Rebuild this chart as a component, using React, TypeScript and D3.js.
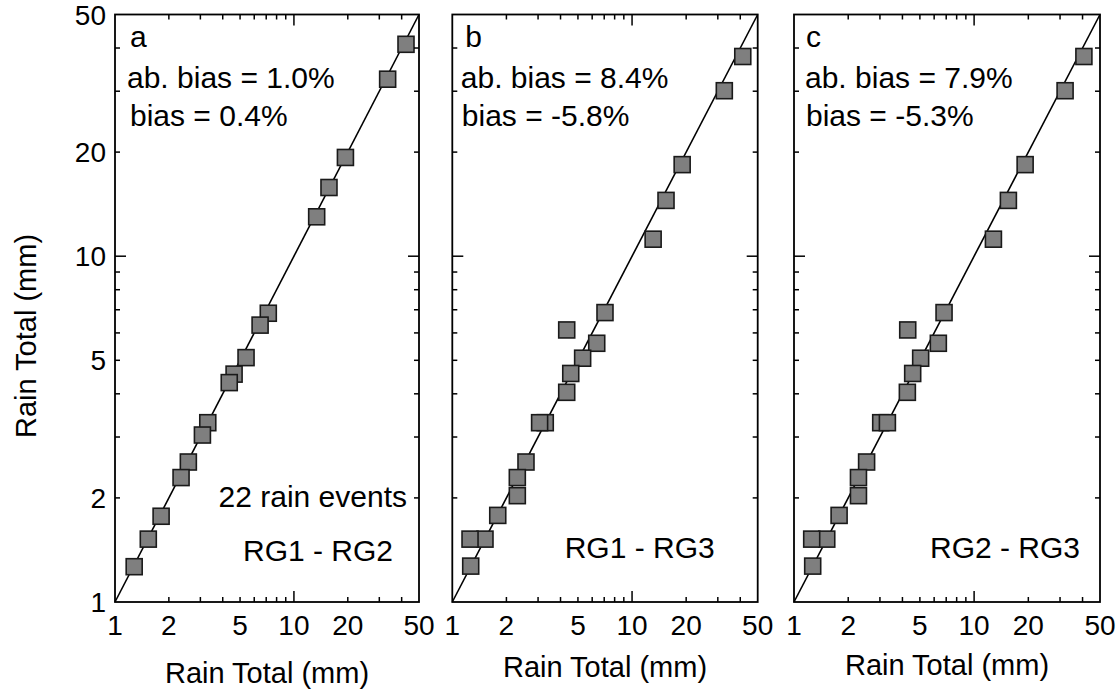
import React from "react";
import * as d3 from "d3";

// ---- data ----
const panelA_x = [42.3, 33.4, 19.4, 15.7, 13.4, 7.19, 6.47, 5.4, 4.63, 4.35, 3.3, 3.08, 2.57, 2.34, 1.81, 1.535, 1.28];
const panelA_y = [41.0, 32.5, 19.3, 15.8, 13.0, 6.84, 6.32, 5.09, 4.56, 4.31, 3.3, 3.04, 2.54, 2.29, 1.77, 1.52, 1.265];

const panelB_x = [41.3, 32.6, 19.0, 15.45, 13.1, 7.07, 4.33, 6.36, 5.31, 4.56, 4.33, 3.29, 3.06, 2.57, 2.3, 2.3, 1.79, 1.52, 1.255, 1.266];
const panelB_y = [37.8, 30.1, 18.4, 14.5, 11.2, 6.87, 6.12, 5.6, 5.07, 4.58, 4.04, 3.3, 3.3, 2.54, 2.29, 2.03, 1.78, 1.52, 1.52, 1.27];

const panelC_x = [40.7, 32.0, 19.2, 15.5, 12.8, 6.81, 4.28, 6.33, 5.05, 4.56, 4.26, 3.03, 3.3, 2.53, 2.28, 2.28, 1.78, 1.52, 1.254, 1.27];
const panelC_y = [37.8, 30.1, 18.4, 14.5, 11.2, 6.87, 6.12, 5.6, 5.07, 4.58, 4.04, 3.3, 3.3, 2.54, 2.29, 2.03, 1.78, 1.52, 1.52, 1.27];

const panelLetters = ["a", "b", "c"];
const absBias = ["ab. bias = 1.0%", "ab. bias = 8.4%", "ab. bias = 7.9%"];
const bias = ["bias = 0.4%", "bias = -5.8%", "bias = -5.3%"];
const pairLabels = ["RG1 - RG2", "RG1 - RG3", "RG2 - RG3"];
const eventsLabel = "22 rain events";

const tickLabels = [1, 2, 5, 10, 20, 50];
const minorTicks = [2, 3, 4, 5, 6, 7, 8, 9, 20, 30, 40];
const majorTicks = [10];
const axisTitle = "Rain Total (mm)";

// ---- layout ----
const W = 1117, H = 689;
const TOP = 14.5, BOTTOM = 602;
const FONT = "Arial, 'Liberation Sans', Helvetica, sans-serif";

const panels = [
  { left: 115, right: 419, xs: panelA_x, ys: panelA_y, lx: [15, 12, 15], xTitleY: 683 },
  { left: 452.3, right: 757.7, xs: panelB_x, ys: panelB_y, lx: [13, 8.5, 9.5], xTitleY: 677 },
  { left: 794, right: 1100, xs: panelC_x, ys: panelC_y, lx: [12, 11, 12], xTitleY: 675 },
];

const MS = 16; // marker size

function Panel({ p, i }: { p: typeof panels[number]; i: number }) {
  const x = d3.scaleLog().domain([1, 50]).range([p.left, p.right]);
  const y = d3.scaleLog().domain([1, 50]).range([BOTTOM, TOP]);
  const minorLen = 5, majorLen = 11;
  const ticks: JSX.Element[] = [];
  const addTicks = (vals: number[], len: number, key: string) => {
    vals.forEach((v) => {
      ticks.push(<line key={key + "b" + v} x1={x(v)} x2={x(v)} y1={BOTTOM} y2={BOTTOM - len} />);
      ticks.push(<line key={key + "t" + v} x1={x(v)} x2={x(v)} y1={TOP} y2={TOP + len} />);
      ticks.push(<line key={key + "l" + v} x1={p.left} x2={p.left + len} y1={y(v)} y2={y(v)} />);
      ticks.push(<line key={key + "r" + v} x1={p.right} x2={p.right - len} y1={y(v)} y2={y(v)} />);
    });
  };
  addTicks(minorTicks, minorLen, "m");
  addTicks(majorTicks, majorLen, "M");

  const cx = (p.left + p.right) / 2;
  const data = d3.zip(p.xs, p.ys);

  return (
    <g>
      {/* 1:1 line */}
      <line x1={x(1)} y1={y(1)} x2={x(50)} y2={y(50)} stroke="#000" strokeWidth={1.6} />
      {/* markers */}
      {data.map(([vx, vy], k) => (
        <rect
          key={k}
          x={x(vx) - MS / 2}
          y={y(vy) - MS / 2}
          width={MS}
          height={MS}
          fill="#7f7f7f"
          stroke="#1a1a1a"
          strokeWidth={1.6}
        />
      ))}
      {/* frame + ticks */}
      <g stroke="#000" strokeWidth={1.5}>{ticks}</g>
      <rect x={p.left} y={TOP} width={p.right - p.left} height={BOTTOM - TOP} fill="none" stroke="#000" strokeWidth={1.8} />
      {/* x tick labels */}
      {tickLabels.map((v) => (
        <text key={"xl" + v} x={x(v)} y={635} textAnchor="middle" fontSize={28} fontFamily={FONT} fill="#000">
          {v}
        </text>
      ))}
      {/* y tick labels on first panel */}
      {i === 0 &&
        tickLabels.map((v) => (
          <text key={"yl" + v} x={p.left - 9} y={y(v)} dy="0.36em" textAnchor="end" fontSize={28} fontFamily={FONT} fill="#000">
            {v}
          </text>
        ))}
      {/* x axis title */}
      <text x={cx} y={p.xTitleY} textAnchor="middle" fontSize={29} fontFamily={FONT} fill="#000">
        {axisTitle}
      </text>
      {/* annotations */}
      <text x={p.left + p.lx[0]} y={47} fontSize={30} fontFamily={FONT} fill="#000">{panelLetters[i]}</text>
      <text x={p.left + p.lx[1]} y={88} fontSize={30} fontFamily={FONT} fill="#000">{absBias[i]}</text>
      <text x={p.left + p.lx[2]} y={126} fontSize={30} fontFamily={FONT} fill="#000">{bias[i]}</text>
      {i === 0 && (
        <text x={p.right - 12} y={507} textAnchor="end" fontSize={30} fontFamily={FONT} fill="#000">{eventsLabel}</text>
      )}
      <text x={p.right - (i === 0 ? 26 : i === 1 ? 43 : 20)} y={i === 0 ? 561 : 558} textAnchor="end" fontSize={30} fontFamily={FONT} fill="#000">
        {pairLabels[i]}
      </text>
    </g>
  );
}

export default function App() {
  return (
    <svg width={W} height={H} viewBox={`0 0 ${W} ${H}`} style={{ position: "absolute", left: 0, top: 0, background: "#fff" }}>
      <rect x={0} y={0} width={W} height={H} fill="#fff" />
      {panels.map((p, i) => (
        <Panel key={i} p={p} i={i} />
      ))}
      <text
        transform={`translate(36, 336) rotate(-90)`}
        textAnchor="middle"
        fontSize={29}
        fontFamily={FONT}
        fill="#000"
      >
        {axisTitle}
      </text>
    </svg>
  );
}
